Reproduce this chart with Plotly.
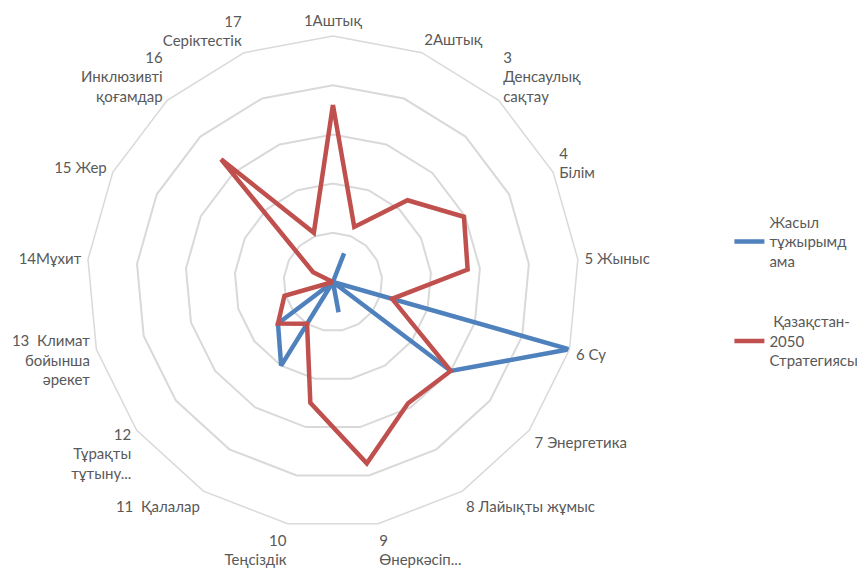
import plotly.graph_objects as go

categories = [
    "1Аштық",
    "2Аштық",
    "3<br>Денсаулық<br>сақтау",
    "4<br>Білім",
    "5 Жыныс",
    "6 Су",
    "7 Энергетика",
    "8 Лайықты жұмыс",
    "9<br>Өнеркәсіп...",
    "10<br>Теңсіздік",
    "11  Қалалар",
    "12<br>Тұрақты<br>тұтыну...",
    "13  Климат<br>бойынша<br>әрекет",
    "14Мұхит",
    "15 Жер",
    "16<br>Инклюзивті<br>қоғамдар",
    "17<br>Серіктестік",
]

green_concept = [0, 1.25, 0, 0, 0, 10, 6.0, 0, 1.25, 0, 4.0, 2.8, 0, 0, 0, 0, 0]
strategy_2050 = [7.2, 2.4, 4.5, 5.95, 5.5, 2.5, 6.0, 5.8, 7.5, 5.0, 2.0, 2.8, 2.05, 0, 0.9, 6.75, 2.15]

series_names = ["Жасыл<br>тұжырымд<br>ама", " Қазақстан-<br>2050<br>Стратегиясы"]
series_colors = ["#4f81bd", "#c0504d"]

fig = go.Figure()
for name, vals, col in zip(series_names, [green_concept, strategy_2050], series_colors):
    fig.add_trace(go.Scatterpolar(
        r=vals + vals[:1],
        theta=categories + categories[:1],
        mode="lines",
        name=name,
        legendgroup=name,
        line=dict(color=col, width=4.5),
    ))

fig.update_layout(
    width=865, height=572,
    margin=dict(l=0, r=0, t=0, b=0),
    paper_bgcolor="white",
    font=dict(family="Lato, Carlito, Calibri, sans-serif", size=15, color="#595959"),
    polar=dict(
        domain=dict(x=[0.0913, 0.660], y=[0.0909, 0.951]),
        bgcolor="white",
        gridshape="linear",
        radialaxis=dict(range=[0, 10], dtick=2, showticklabels=False, ticks="",
                        showline=False, showgrid=True, gridcolor="#d9d9d9", gridwidth=1.5),
        angularaxis=dict(rotation=90, direction="clockwise", showgrid=False,
                         showline=True, linecolor="#d9d9d9", linewidth=1.5,
                         ticks="outside", ticklen=3, tickcolor="rgba(0,0,0,0)",
                         tickfont=dict(size=15, color="#595959")),
    ),
    legend=dict(x=0.834, y=0.505, xanchor="left", yanchor="middle",
                font=dict(size=15, color="#595959"), tracegroupgap=38,
                bgcolor="rgba(0,0,0,0)"),
)

fig.write_html("out.html")
